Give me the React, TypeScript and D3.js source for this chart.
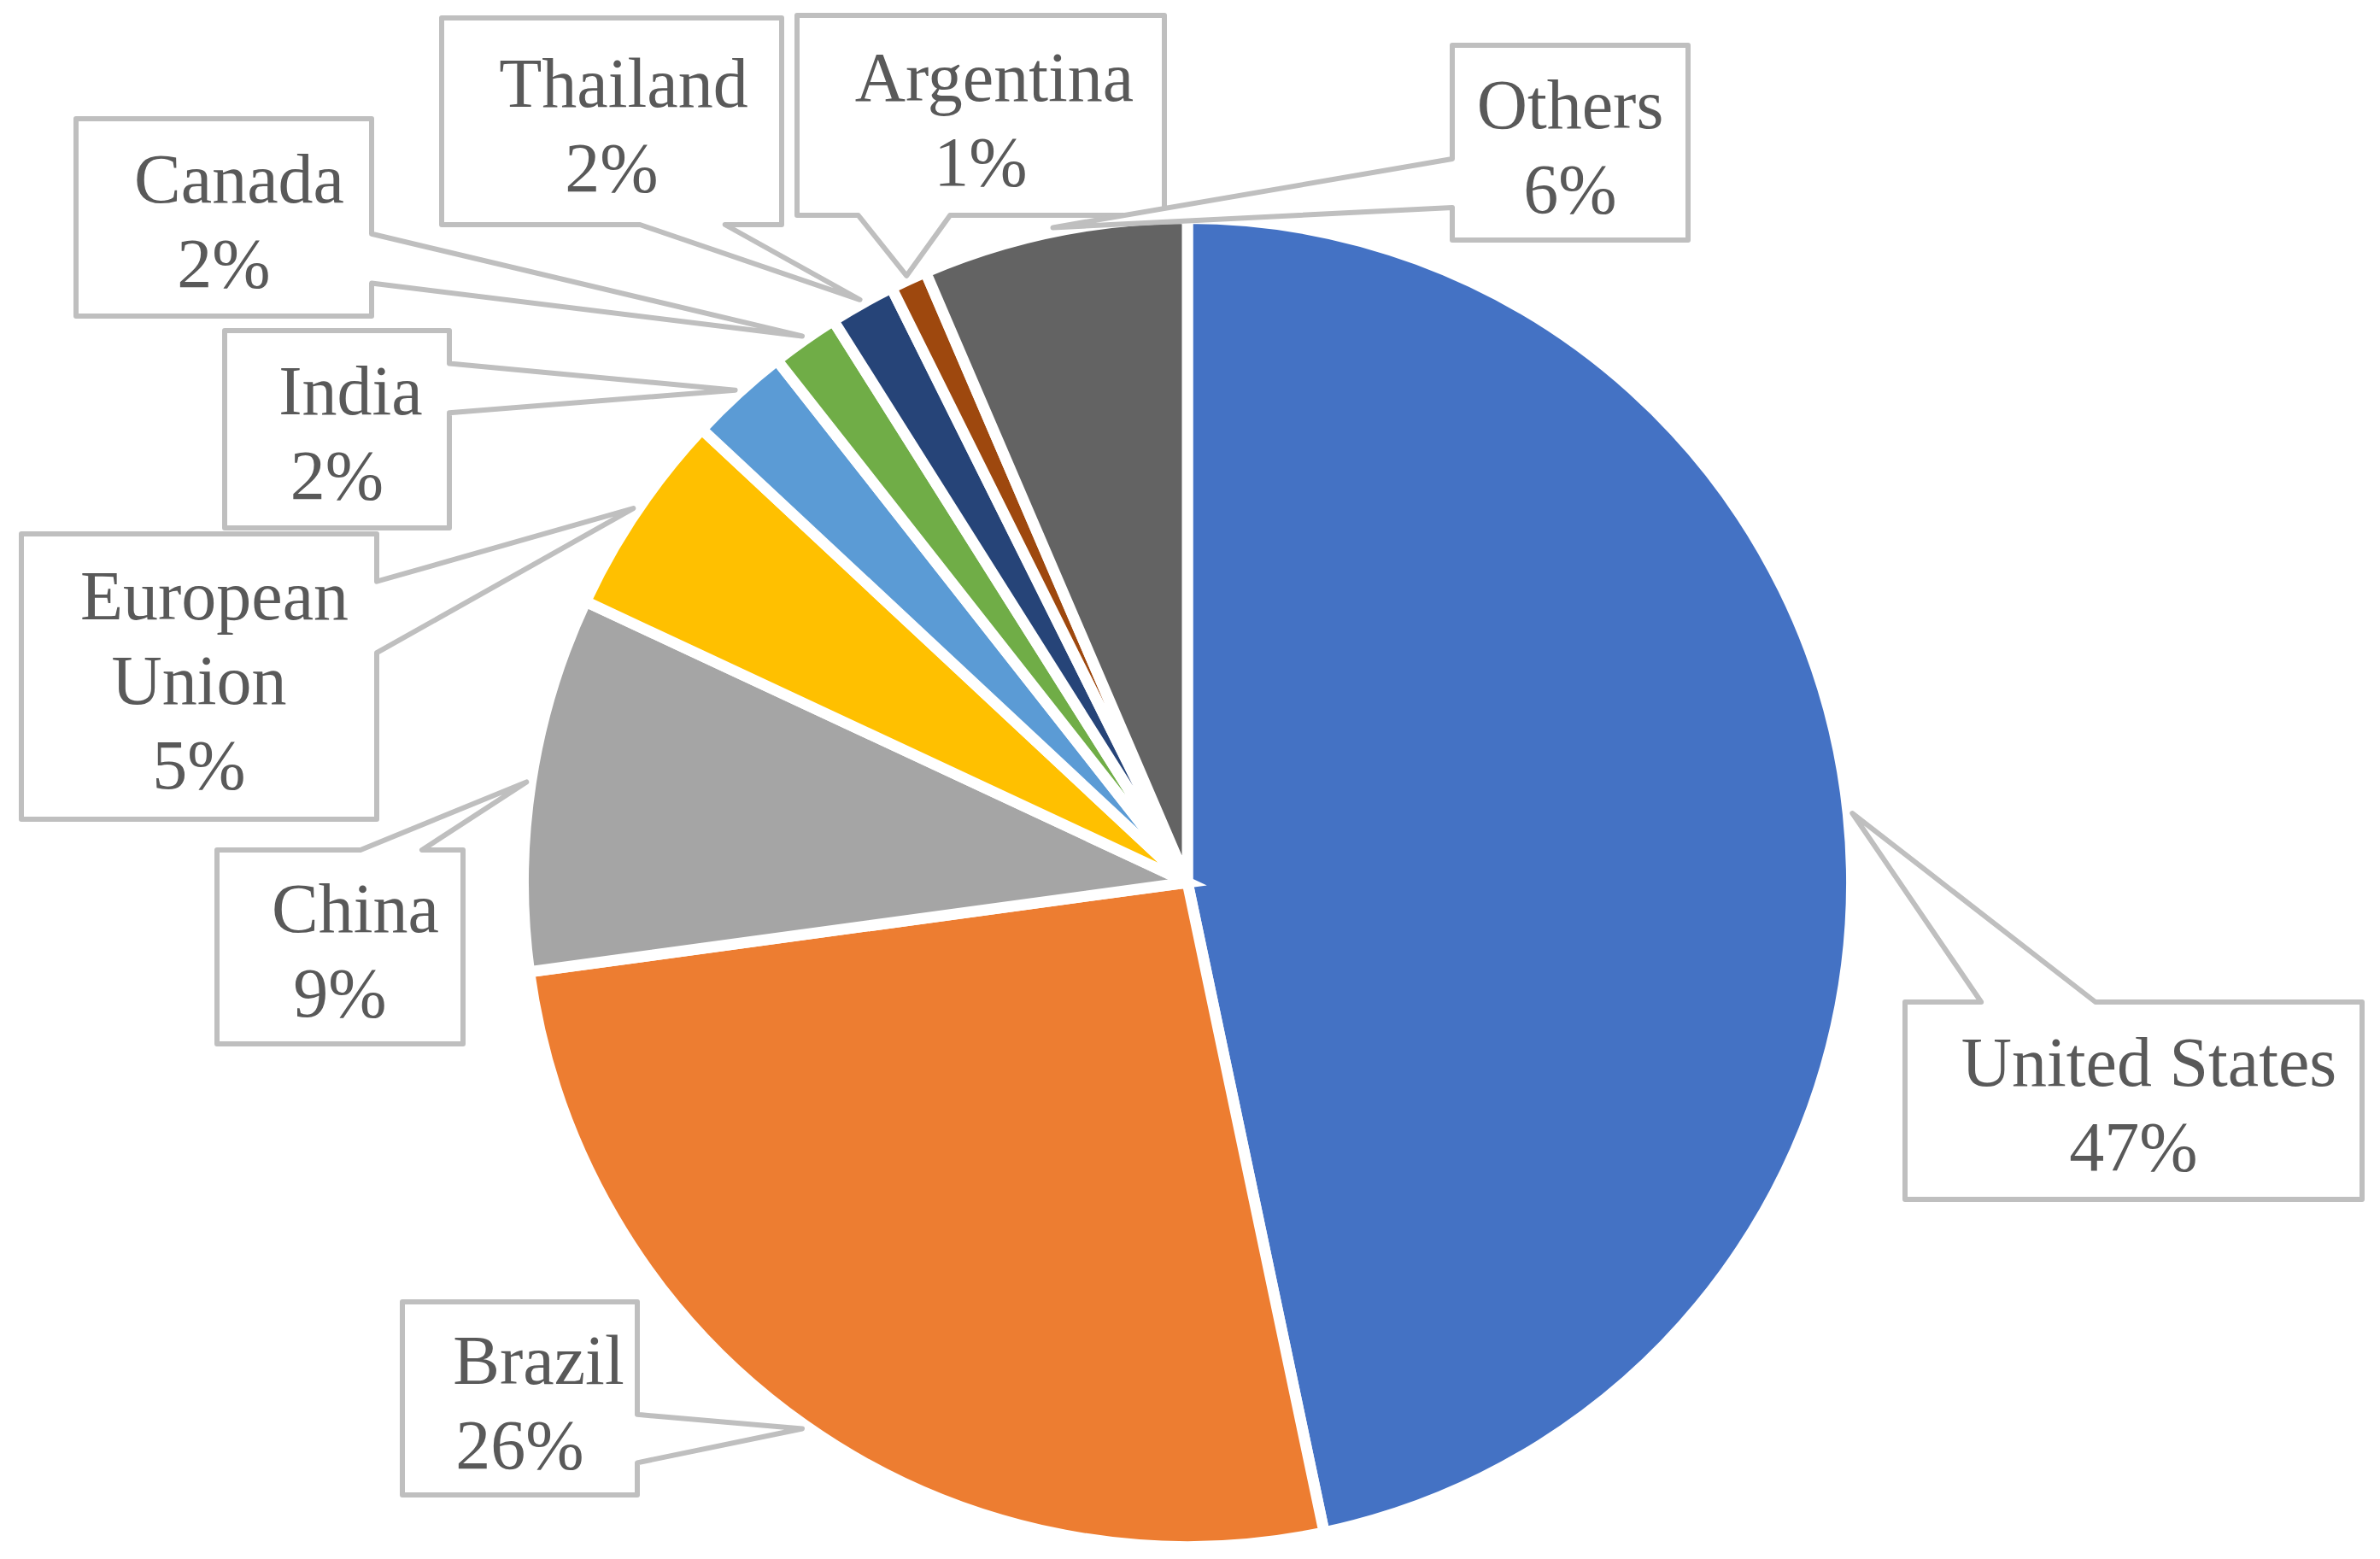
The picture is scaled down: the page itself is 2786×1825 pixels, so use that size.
import React from "react";
import * as d3 from "d3";

const categories = ["United States", "Brazil", "China", "European Union", "India", "Canada", "Thailand", "Argentina", "Others"];
const values = [46.7, 26.15, 9.1, 5.0, 2.45, 1.65, 1.6, 0.9, 6.45];
const colors = ["#4472C4", "#ED7D31", "#A5A5A5", "#FFC000", "#5B9BD5", "#70AD47", "#264478", "#9E480E", "#636363"];
const labelLines = [["United States"], ["Brazil"], ["China"], ["European", "Union"], ["India"], ["Canada"], ["Thailand"], ["Argentina"], ["Others"]];

// label box layout [left, top, right, bottom]
const boxes: [number, number, number, number][] = [
  [2230, 1173, 2765, 1404],
  [471, 1524, 746, 1750],
  [254, 995, 542, 1222],
  [25, 625, 441, 959],
  [263, 387, 526, 618],
  [89, 139, 435, 370],
  [517, 21, 915, 263],
  [933, 18, 1363, 252],
  [1700, 53, 1976, 281],
];
// horizontal nudge of the name line inside each box
const nameShift = [18, 22, 18, 18, 16, 18, 14, 16, 0];

const W = 2786, H = 1825;
const CX = 1390, CY = 1033, RV = 771, STROKE = 13;

function calloutPath(b: [number, number, number, number], tx: number, ty: number) {
  const [l, t, r, bt] = b;
  const w = r - l, h = bt - t;
  const cx = (l + r) / 2, cy = (t + bt) / 2;
  const dx = tx - cx, dy = ty - cy;
  const horiz = Math.abs(dx) * h > Math.abs(dy) * w;
  const xg1 = dx > 0 ? 7 : 2;
  const yg1 = dy > 0 ? 7 : 2;
  const x1 = l + (w * xg1) / 12, x2 = l + (w * (xg1 + 3)) / 12;
  const y1 = t + (h * yg1) / 12, y2 = t + (h * (yg1 + 3)) / 12;
  const p = d3.path();
  p.moveTo(l, t);
  if (!horiz && dy < 0) { p.lineTo(x1, t); p.lineTo(tx, ty); p.lineTo(x2, t); }
  p.lineTo(r, t);
  if (horiz && dx > 0) { p.lineTo(r, y1); p.lineTo(tx, ty); p.lineTo(r, y2); }
  p.lineTo(r, bt);
  if (!horiz && dy > 0) { p.lineTo(x2, bt); p.lineTo(tx, ty); p.lineTo(x1, bt); }
  p.lineTo(l, bt);
  if (horiz && dx < 0) { p.lineTo(l, y2); p.lineTo(tx, ty); p.lineTo(l, y1); }
  p.closePath();
  return p.toString();
}

export default function App() {
  const total = d3.sum(values);
  const pie = d3.pie<number>().sort(null).value((d) => d);
  const arcs = pie(values);
  const arc = d3.arc<d3.PieArcDatum<number>>().innerRadius(0).outerRadius(RV + STROKE / 2);
  const tipR = RV * 1.015;
  const tipArc = d3.arc<d3.PieArcDatum<number>>().innerRadius(tipR).outerRadius(tipR);
  const fontSize = 82;
  const lineH = 99;

  return (
    <svg width={W} height={H} style={{ position: "absolute", left: 0, top: 0, background: "#fff" }}>
      <rect x={0} y={0} width={W} height={H} fill="#fff" />
      <g transform={`translate(${CX},${CY})`}>
        {arcs.map((a, i) => (
          <path key={i} d={arc(a) || ""} fill={colors[i]} stroke="#fff" strokeWidth={STROKE} strokeLinejoin="miter" />
        ))}
      </g>
      {arcs.map((a, i) => {
        const [px, py] = tipArc.centroid(a);
        const tx = CX + px, ty = CY + py;
        const b = boxes[i];
        const bcx = (b[0] + b[2]) / 2, bcy = (b[1] + b[3]) / 2;
        const lines = [...labelLines[i], `${Math.round((values[i] / total) * 100)}%`];
        const n = lines.length;
        const mid = bcy + 32;
        const first = mid - ((n - 1) * lineH) / 2;
        return (
          <g key={"l" + i}>
            <path d={calloutPath(b, tx, ty)} fill="#fff" stroke="#BFBFBF" strokeWidth={6} strokeLinejoin="round" />
            {lines.map((s, j) => (
              <text key={j} x={bcx + (j === 0 ? nameShift[i] : 0)} y={first + j * lineH} textAnchor="middle" fontFamily="'Liberation Serif', 'DejaVu Serif', serif" fontSize={fontSize} fill="#595959">
                {s}
              </text>
            ))}
          </g>
        );
      })}
    </svg>
  );
}
